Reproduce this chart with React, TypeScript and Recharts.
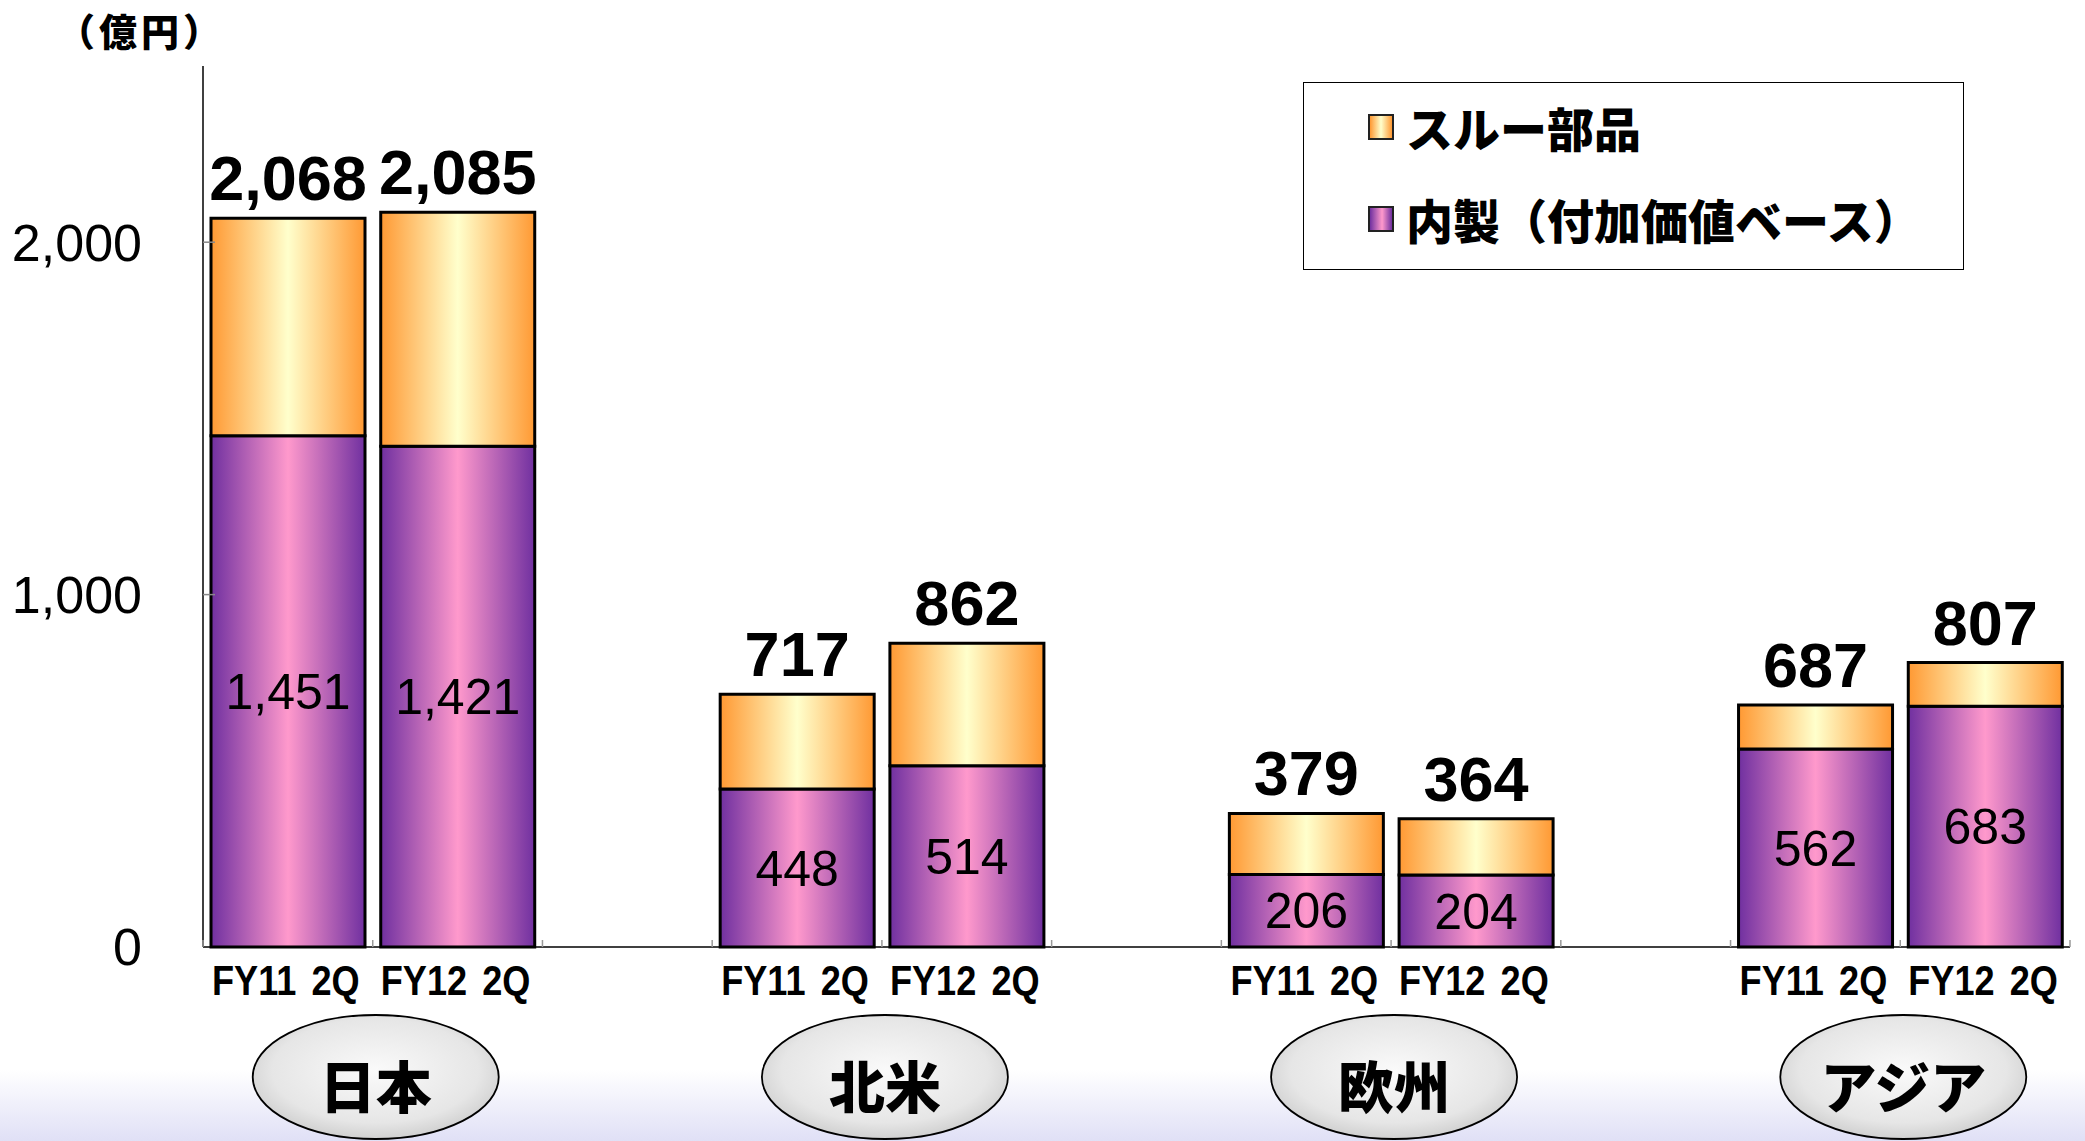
import React from 'react';
import { BarChart, Bar, XAxis, YAxis, LabelList, Legend } from 'recharts';

const regions = ['日本', '北米', '欧州', 'アジア'];
const periods = ['FY11 2Q', 'FY12 2Q'];
const naiseiValues = [1451, 1421, 448, 514, 206, 204, 562, 683];
const throughValues = [617, 664, 269, 348, 173, 160, 125, 124];
const totalValues = [2068, 2085, 717, 862, 379, 364, 687, 807];
const yTicks = [0, 1000, 2000];
const seriesOrder = ['through', 'naisei'];
const seriesNames: Record<string, string> = { naisei: '内製（付加価値ベース）', through: 'スルー部品' };
const unitLabel = '（億円）';

const W = 2085;
const H = 1141;
const MARGIN = { top: 66, right: 15, bottom: 134, left: 0 };
const Y_AXIS_W = 203;
const X_AXIS_H = 60;
const PLOT_W = W - MARGIN.left - MARGIN.right - Y_AXIS_W;

type Row = { key: string; period: string; region: string; naisei?: number; through?: number; total?: number; first?: boolean };

const rows: Row[] = [];
regions.forEach((r, ri) => {
  if (ri > 0) rows.push({ key: `gap${ri}`, period: '', region: '' });
  periods.forEach((p, pi) => {
    const i = ri * periods.length + pi;
    rows.push({
      key: `${r}-${p}`,
      period: p,
      region: r,
      naisei: naiseiValues[i],
      through: throughValues[i],
      total: totalValues[i],
      first: pi === 0,
    });
  });
});
const BAND = PLOT_W / rows.length;

const LATIN = "'Liberation Sans', Arial, sans-serif";
const CJK = "'Noto Sans CJK JP', 'Noto Sans', sans-serif";

const fmt = (v: number) => v.toLocaleString('en-US');

const YTick = (props: any) => {
  const { x, y, payload } = props;
  return (
    <g>
      <text x={x} y={y} dy="0.355em" textAnchor="end" fontFamily={LATIN} fontSize={52} fill="#000">
        {fmt(payload.value)}
      </text>
      {payload.value !== 0 && <line x1={x + 61} x2={x + 73} y1={y} y2={y} stroke="#888" strokeWidth={1.5} />}
    </g>
  );
};

const XTick = (props: any) => {
  const { x, y, index } = props;
  const row = rows[index];
  if (!row) return null;
  return (
    <g>
      <line x1={x - BAND / 2} x2={x - BAND / 2} y1={y - 7} y2={y} stroke="#999" strokeWidth={1.5} />
      {index === rows.length - 1 && <line x1={x + BAND / 2} x2={x + BAND / 2} y1={y - 7} y2={y} stroke="#999" strokeWidth={1.5} />}
      {row.period && (
        <text
          transform={`translate(${x - 2},${y + 48}) scale(0.86,1)`}
          textAnchor="middle"
          fontFamily={LATIN}
          fontWeight="bold"
          fontSize={42}
          fill="#000"
          wordSpacing={6}
        >
          {row.period}
        </text>
      )}
      {row.first && (
        <g>
          <ellipse cx={x + BAND / 2 + 3} cy={y + 130} rx={123} ry={62} fill="url(#gEllipse)" stroke="#000" strokeWidth={1.8} />
          <text x={x + BAND / 2 + 3} y={y + 141} dy="0.36em" textAnchor="middle" fontFamily={CJK} fontWeight={900} fontSize={56} fill="#000">
            {row.region}
          </text>
        </g>
      )}
    </g>
  );
};

const CenterLabel = (props: any) => {
  const { x, y, width, height, value } = props;
  if (value == null) return null;
  return (
    <text x={x + width / 2} y={y + height / 2} dy="0.355em" textAnchor="middle" fontFamily={LATIN} fontSize={50} fill="#000">
      {fmt(value)}
    </text>
  );
};

const TotalLabel = (props: any) => {
  const { x, y, width, value } = props;
  if (value == null) return null;
  return (
    <text x={x + width / 2} y={y - 18} textAnchor="middle" fontFamily={LATIN} fontWeight="bold" fontSize={63} fill="#000">
      {fmt(value)}
    </text>
  );
};

const swatchBg: Record<string, string> = {
  through: 'linear-gradient(to right, #FF9933, #FFFFCC 50%, #FF9933)',
  naisei: 'linear-gradient(to right, #7030A0, #FF99CC 55%, #7030A0)',
};

const LegendBox = () => (
  <div
    style={{
      position: 'relative',
      width: 661,
      height: 188,
      border: '1.5px solid #000',
      boxSizing: 'border-box',
      background: '#fff',
    }}
  >
    {seriesOrder.map((k, i) => (
      <div key={k} style={{ position: 'absolute', left: 64, top: 14 + i * 92, height: 60, display: 'flex', alignItems: 'center' }}>
        <div style={{ width: 22, height: 22, border: '2px solid #222', background: swatchBg[k], marginRight: 12 }} />
        <span style={{ fontFamily: CJK, fontWeight: 900, fontSize: 47, color: '#000', whiteSpace: 'nowrap', lineHeight: '60px' }}>
          {seriesNames[k]}
        </span>
      </div>
    ))}
  </div>
);

export default function App() {
  return (
    <div style={{ position: 'absolute', left: 0, top: 0, width: W, height: H, overflow: 'hidden', background: '#fff' }}>
      <div
        style={{
          position: 'absolute',
          left: 0,
          top: 1070,
          width: W,
          height: H - 1070,
          background: 'linear-gradient(to bottom, rgba(255,255,255,0), #E0E0F6)',
        }}
      />
      <div
        style={{
          position: 'absolute',
          left: 57,
          top: 2,
          fontFamily: CJK,
          fontWeight: 900,
          fontSize: 38,
          letterSpacing: 4,
          color: '#000',
          whiteSpace: 'nowrap',
        }}
      >
        {unitLabel}
      </div>
      <BarChart width={W} height={H} data={rows} margin={MARGIN} barSize={154}>
        <defs>
          <linearGradient id="gPurple" x1="0" y1="0" x2="1" y2="0">
            <stop offset="0%" stopColor="#7030A0" />
            <stop offset="50%" stopColor="#FF99CC" />
            <stop offset="100%" stopColor="#7030A0" />
          </linearGradient>
          <linearGradient id="gOrange" x1="0" y1="0" x2="1" y2="0">
            <stop offset="0%" stopColor="#FF9933" />
            <stop offset="50%" stopColor="#FFFFCC" />
            <stop offset="100%" stopColor="#FF9933" />
          </linearGradient>
          <radialGradient id="gEllipse" cx="0.5" cy="0.45" r="0.6">
            <stop offset="0%" stopColor="#FAFAFA" />
            <stop offset="70%" stopColor="#E6E6E6" />
            <stop offset="100%" stopColor="#C8C8C8" />
          </radialGradient>
        </defs>
        <XAxis
          dataKey="key"
          height={X_AXIS_H}
          interval={0}
          tickSize={0}
          tickMargin={0}
          tickLine={false}
          axisLine={{ stroke: '#000', strokeWidth: 1.5 }}
          tick={<XTick />}
        />
        <YAxis
          width={Y_AXIS_W}
          domain={[0, 2500]}
          ticks={yTicks}
          tickSize={0}
          tickMargin={61}
          tickLine={false}
          axisLine={{ stroke: '#000', strokeWidth: 1.5 }}
          tick={<YTick />}
        />
        <Legend
          layout="vertical"
          align="center"
          verticalAlign="middle"
          content={<LegendBox />}
          wrapperStyle={{ position: 'absolute', left: 1303, top: 82, width: 661, height: 188 }}
        />
        <Bar
          dataKey="naisei"
          name={seriesNames.naisei}
          stackId="a"
          fill="url(#gPurple)"
          stroke="#000"
          strokeWidth={3}
          isAnimationActive={false}
        >
          <LabelList dataKey="naisei" content={<CenterLabel />} />
        </Bar>
        <Bar
          dataKey="through"
          name={seriesNames.through}
          stackId="a"
          fill="url(#gOrange)"
          stroke="#000"
          strokeWidth={3}
          isAnimationActive={false}
        >
          <LabelList dataKey="total" content={<TotalLabel />} />
        </Bar>
      </BarChart>
    </div>
  );
}
